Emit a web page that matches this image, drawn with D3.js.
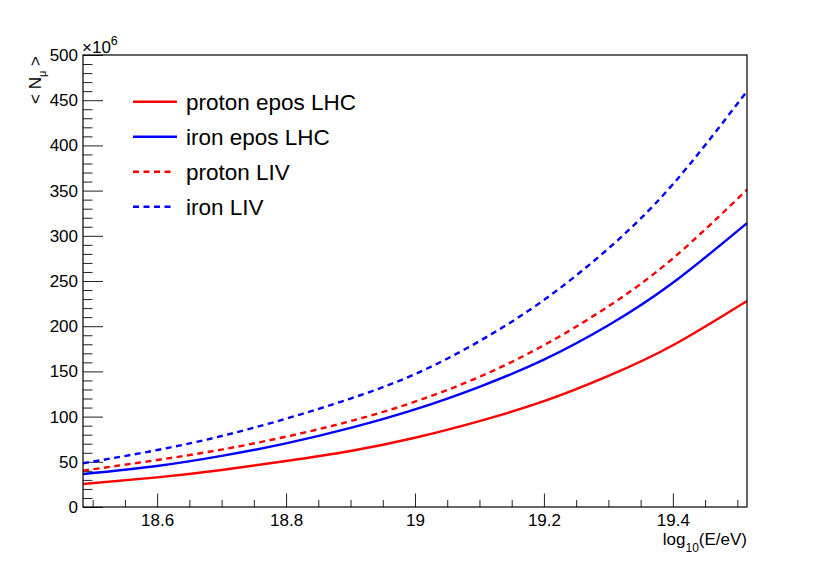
<!DOCTYPE html>
<html>
<head>
<meta charset="utf-8">
<script src="https://cdn.jsdelivr.net/npm/d3@7"></script>
<style>
    body { margin: 0; background: #fff; }
    svg { display: block; font-family: 'Liberation Sans', Arial, sans-serif; }
</style>
</head>
<body>
<svg id="chart"></svg>
<script>
// log10(E/eV) sample points (frame edges included)
const energies = [ 18.485, 18.6, 18.7, 18.8, 18.9, 19.0, 19.1, 19.2, 19.3, 19.4, 19.515 ];

// <N_mu> in units of 10^6
const protonEpos = [ 25.4, 32.8, 41, 50.9, 62, 76.6, 95, 117, 145, 179, 228 ];
const ironEpos   = [ 36.5, 45.4, 56.5, 70.4, 87.5, 108, 133, 163, 201, 248, 314 ];
const protonLiv  = [ 40.2, 52, 63.5, 77.8, 95, 116.5, 144, 179, 222, 275, 351 ];
const ironLiv    = [ 48.3, 63, 78.5, 97.7, 120, 147, 183.5, 229, 286, 357, 460 ];

const seriesNames = [ 'proton epos LHC', 'iron epos LHC', 'proton LIV', 'iron LIV' ];

const xMajorTicks = [ 18.6, 18.8, 19.0, 19.2, 19.4 ];
const xMinorTicks = [ 18.5, 18.55, 18.65, 18.7, 18.75, 18.85, 18.9, 18.95, 19.05, 19.1, 19.15, 19.25, 19.3, 19.35, 19.45, 19.5 ];
const yMajorTicks = [ 0, 50, 100, 150, 200, 250, 300, 350, 400, 450, 500 ];

class MuonChart {
    constructor( config ){
        this.config = {
            parent: config.parent,
            width: config.width || 830,
            height: config.height || 564,
            margin: config.margin || { top:55, right:83, bottom:57, left:83 },
            xdomain: config.xdomain,
            ydomain: config.ydomain
        };
        this.series = [
            { name: seriesNames[0], values: protonEpos, color: '#ff0000', dash: null },
            { name: seriesNames[1], values: ironEpos, color: '#0000ff', dash: null },
            { name: seriesNames[2], values: protonLiv, color: '#ff0000', dash: '6,4.5' },
            { name: seriesNames[3], values: ironLiv, color: '#0000ff', dash: '6,4.5' }
        ];
        this.init();
    }

    init() {
        let self = this;

        self.svg = d3.select( self.config.parent )
            .attr( 'width', self.config.width )
            .attr( 'height', self.config.height );

        self.inner_width = self.config.width - self.config.margin.left - self.config.margin.right;
        self.inner_height = self.config.height - self.config.margin.top - self.config.margin.bottom;

        self.chart = self.svg.append( 'g' )
            .attr( 'transform', `translate(${self.config.margin.left}, ${self.config.margin.top})` );

        self.xscale = d3.scaleLinear()
            .domain( self.config.xdomain )
            .range( [ 0, self.inner_width ] );

        self.yscale = d3.scaleLinear()
            .domain( self.config.ydomain )
            .range( [ self.inner_height, 0 ] );

        self.line = d3.line()
            .x( d => self.xscale( d[0] ) )
            .y( d => self.yscale( d[1] ) )
            .curve( d3.curveNatural );
    }

    render() {
        let self = this;
        const fmt = d => String( +d.toFixed( 1 ) );

        // minor ticks
        self.chart.append( 'g' )
            .attr( 'transform', `translate(0, ${self.inner_height})` )
            .call( d3.axisBottom( self.xscale ).tickValues( xMinorTicks ).tickSize( -7 ).tickSizeOuter( 0 ).tickFormat( '' ) );
        const yMinor = d3.range( 0, 501, 10 ).filter( v => v % 50 !== 0 );
        self.chart.append( 'g' )
            .call( d3.axisLeft( self.yscale ).tickValues( yMinor ).tickSize( -9.5 ).tickSizeOuter( 0 ).tickFormat( '' ) );

        // major ticks with labels
        self.chart.append( 'g' )
            .attr( 'class', 'xaxis' )
            .attr( 'transform', `translate(0, ${self.inner_height})` )
            .call( d3.axisBottom( self.xscale ).tickValues( xMajorTicks ).tickSize( -13.5 ).tickSizeOuter( 0 ).tickPadding( 7 ).tickFormat( fmt ) );
        self.chart.append( 'g' )
            .attr( 'class', 'yaxis' )
            .call( d3.axisLeft( self.yscale ).tickValues( yMajorTicks ).tickSize( -20 ).tickSizeOuter( 0 ).tickPadding( 5 ) );

        self.chart.selectAll( '.tick line' ).attr( 'stroke', '#222' );
        self.chart.selectAll( '.domain' ).remove();
        self.chart.selectAll( '.tick text' )
            .attr( 'fill', '#000' )
            .style( 'font-family', "'Liberation Sans', Arial, sans-serif" )
            .style( 'font-size', '17px' );

        // curves
        self.chart.selectAll( 'path.curve' )
            .data( self.series )
            .enter()
            .append( 'path' )
            .attr( 'class', 'curve' )
            .attr( 'd', s => self.line( energies.map( ( e, i ) => [ e, s.values[i] ] ) ) )
            .attr( 'fill', 'none' )
            .attr( 'stroke', s => s.color )
            .attr( 'stroke-width', 2.4 )
            .attr( 'stroke-dasharray', s => s.dash );

        // frame
        self.chart.append( 'rect' )
            .attr( 'width', self.inner_width )
            .attr( 'height', self.inner_height )
            .attr( 'fill', 'none' )
            .attr( 'stroke', '#000' )
            .attr( 'stroke-width', 1.2 );

        // legend
        const legend = self.chart.append( 'g' )
            .attr( 'transform', 'translate(50, 46.7)' );
        const rows = legend.selectAll( 'g' )
            .data( self.series )
            .enter()
            .append( 'g' )
            .attr( 'transform', ( d, i ) => `translate(0, ${i * 35})` );
        rows.append( 'line' )
            .attr( 'x1', 0 )
            .attr( 'x2', d => d.dash ? 40 : 44 )
            .attr( 'stroke', d => d.color )
            .attr( 'stroke-width', 2.4 )
            .attr( 'stroke-dasharray', d => d.dash );
        rows.append( 'text' )
            .attr( 'x', 53 )
            .attr( 'dy', '0.35em' )
            .style( 'font-size', '22.5px' )
            .text( d => d.name );

        // exponent
        const expo = self.svg.append( 'text' )
            .attr( 'x', 82 )
            .attr( 'y', 52.5 )
            .style( 'font-size', '17px' );
        expo.append( 'tspan' ).text( '\u00d710' );
        expo.append( 'tspan' ).attr( 'dy', -7.5 ).style( 'font-size', '12.5px' ).text( '6' );

        // x title
        const xt = self.svg.append( 'text' )
            .attr( 'x', 747 )
            .attr( 'y', 545 )
            .attr( 'text-anchor', 'end' )
            .style( 'font-size', '17px' );
        xt.append( 'tspan' ).text( 'log' );
        xt.append( 'tspan' ).attr( 'dy', 7 ).style( 'font-size', '12px' ).text( '10' );
        xt.append( 'tspan' ).attr( 'dy', -7 ).text( '(E/eV)' );

        // y title
        const yt = self.svg.append( 'text' )
            .attr( 'transform', 'translate(41, 56) rotate(-90)' )
            .attr( 'text-anchor', 'end' )
            .style( 'font-size', '17px' );
        yt.append( 'tspan' ).text( '< N' );
        yt.append( 'tspan' ).attr( 'dy', 5 ).style( 'font-size', '11px' ).text( '\u03bc' );
        yt.append( 'tspan' ).attr( 'dy', -5 ).text( ' >' );
    }
}

const chart = new MuonChart( {
    parent: '#chart',
    width: 830,
    height: 564,
    margin: { top:55, right:83, bottom:57, left:83 },
    xdomain: [ 18.485, 19.515 ],
    ydomain: [ 0, 500 ]
} );
chart.render();
</script>
</body>
</html>
